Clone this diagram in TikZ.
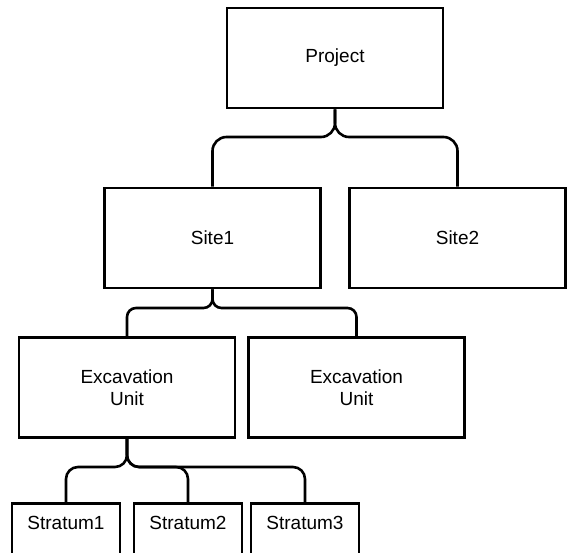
\documentclass[tikz,border=0pt]{standalone}
\usepackage{fontspec}
\setmainfont{Liberation Sans}
\usepackage{tikz}

\begin{document}
\begin{tikzpicture}[x=1pt, y=-1pt, line width=2.6pt,
    every node/.style={rectangle, draw, align=center, font=\fontsize{19}{22}\selectfont},
    bigbox/.style={minimum width=216pt, minimum height=100pt},
    stratbox/.style={minimum width=108pt, anchor=north, text height=20pt, text depth=44pt, inner ysep=6pt},
    brace/.style={rounded corners=12pt}]
  \useasboundingbox (0,0) rectangle (568,553);
  \clip (0,0) rectangle (568,553);
  \node[bigbox] (project) at (335, 58) {Project};
  \node[bigbox] (site1) at (212.5, 238) {Site1};
  \node[bigbox] (site2) at (457.5, 238) {Site2};
  \node[bigbox] (unit1) at (127, 387.5) {Excavation\\Unit};
  \node[bigbox] (unit2) at (356.5, 387.5) {Excavation\\Unit};
  \node[stratbox] (stratum1) at (66, 502) {Stratum1};
  \node[stratbox] (stratum2) at (188, 502) {Stratum2};
  \node[stratbox] (stratum3) at (305, 502) {Stratum3};
  \coordinate (j1) at (335, 137);
  \coordinate (j2) at (212.5, 308);
  \coordinate (j3) at (127, 467);
  \draw[brace, rounded corners=14pt] (project.south) -- (j1) -- (j1 -| site1.north) -- (site1.north);
  \draw[brace, rounded corners=14pt] (project.south) -- (j1) -- (j1 -| site2.north) -- (site2.north);
  \draw[brace, rounded corners=9pt] (site1.south) -- (j2) -- (j2 -| unit1.north) -- (unit1.north);
  \draw[brace, rounded corners=9pt] (site1.south) -- (j2) -- (j2 -| unit2.north) -- (unit2.north);
  \draw[brace] (unit1.south) -- (j3) -- (j3 -| stratum1.north) -- (stratum1.north);
  \draw[brace] (unit1.south) -- (j3) -- (j3 -| stratum2.north) -- (stratum2.north);
  \draw[brace] (unit1.south) -- (j3) -- (j3 -| stratum3.north) -- (stratum3.north);
\end{tikzpicture}
\end{document}
